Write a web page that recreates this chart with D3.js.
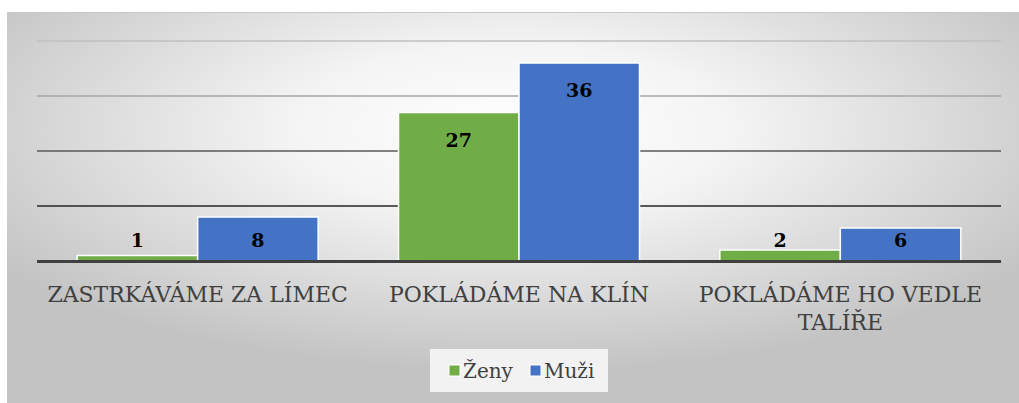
<!DOCTYPE html>
<html>
<head>
<meta charset="utf-8">
<script src="https://cdn.jsdelivr.net/npm/d3@7"></script>
<style>
  body { margin: 0; background: #fff; }
</style>
</head>
<body>
<div id="chart"></div>
<script>
var categories = ["ZASTRKÁVÁME ZA LÍMEC", "POKLÁDÁME NA KLÍN", "POKLÁDÁME HO VEDLE TALÍŘE"];
var seriesNames = ["Ženy", "Muži"];
var zeny = [1, 27, 2];
var muzi = [8, 36, 6];
var gridTicks = [10, 20, 30, 40];

var colors = ["#70ad47", "#4472c4"];
var gridColors = {10: "#262626", 20: "#595959", 30: "#a6a6a6", 40: "#bfbfbf"};
var serif = "DejaVu Serif";

var W = 1019, H = 403;
var margin = {top: 41, left: 37, right: 18, bottom: 142};
var width = W - margin.left - margin.right,
    height = H - margin.top - margin.bottom;

var data = categories.map(function (c, i) {
  return {cat: c, values: [zeny[i], muzi[i]]};
});

var svg = d3.select("#chart").append("svg")
  .attr("width", W).attr("height", H)
  .style("display", "block");

var defs = svg.append("defs");
var grad = defs.append("radialGradient")
  .attr("id", "bg")
  .attr("cx", "0.5").attr("cy", "0.3").attr("r", "0.62");
grad.append("stop").attr("offset", "0").attr("stop-color", "#ffffff");
grad.append("stop").attr("offset", "0.35").attr("stop-color", "#f4f4f4");
grad.append("stop").attr("offset", "1").attr("stop-color", "#c3c3c3");

// chart area
svg.append("rect")
  .attr("x", 7).attr("y", 12)
  .attr("width", W - 7).attr("height", H - 12)
  .attr("fill", "url(#bg)");
svg.append("line")
  .attr("x1", 7).attr("x2", W).attr("y1", 12.5).attr("y2", 12.5)
  .attr("stroke", "#c8c8c8");

var main = svg.append("g")
  .attr("transform", "translate(" + margin.left + "," + margin.top + ")");

var x0 = d3.scaleBand().domain(categories).range([0, width]).padding(0);
var x1 = d3.scaleBand().domain([0, 1])
  .range([x0.bandwidth() * 0.125, x0.bandwidth() * 0.875]).padding(0);
var y = d3.scaleLinear().domain([0, 40]).range([height, 0]);

// gridlines
main.selectAll(".grid")
  .data(gridTicks)
  .enter().append("line")
    .attr("class", "grid")
    .attr("x1", 0).attr("x2", width)
    .attr("y1", function (d) { return y(d); })
    .attr("y2", function (d) { return y(d); })
    .attr("stroke", function (d) { return gridColors[d]; })
    .attr("stroke-width", 1.5);

// bars
var groups = main.selectAll(".group")
  .data(data)
  .enter().append("g")
    .attr("class", "group")
    .attr("transform", function (d) { return "translate(" + x0(d.cat) + ",0)"; });

groups.selectAll("rect")
  .data(function (d) { return d.values; })
  .enter().append("rect")
    .attr("x", function (d, i) { return x1(i); })
    .attr("y", function (d) { return y(d); })
    .attr("width", x1.bandwidth())
    .attr("height", function (d) { return y(0) - y(d); })
    .attr("fill", function (d, i) { return colors[i]; })
    .attr("stroke", "#ffffff")
    .attr("stroke-width", 1.5);

groups.selectAll(".val")
  .data(function (d) { return d.values; })
  .enter().append("text")
    .attr("class", "val")
    .attr("x", function (d, i) { return x1(i) + x1.bandwidth() / 2; })
    .attr("y", function (d) { return Math.min(y(d) + 34, y(0) - 14); })
    .attr("text-anchor", "middle")
    .style("font-family", serif)
    .style("font-size", "19px")
    .style("font-weight", "bold")
    .attr("fill", "#000")
    .text(function (d) { return d; });

// baseline
main.append("line")
  .attr("x1", 0).attr("x2", width)
  .attr("y1", y(0) + 0.5).attr("y2", y(0) + 0.5)
  .attr("stroke", "#404040").attr("stroke-width", 3);

// category labels
var maxLabel = x0.bandwidth();
main.selectAll(".cat")
  .data(categories)
  .enter().append("text")
    .attr("class", "cat")
    .attr("x", function (d) { return x0(d) + x0.bandwidth() / 2; })
    .attr("y", y(0) + 41)
    .attr("text-anchor", "middle")
    .attr("fill", "#404040")
    .style("font-family", serif)
    .style("font-size", "22px")
    .each(function (d) {
      var t = d3.select(this);
      var words = d.split(" "), line = [];
      var tspan = t.append("tspan").attr("x", t.attr("x")).attr("dy", 0);
      words.forEach(function (w) {
        line.push(w);
        tspan.text(line.join(" "));
        if (tspan.node().getComputedTextLength() > maxLabel && line.length > 1) {
          line.pop();
          tspan.text(line.join(" "));
          line = [w];
          tspan = t.append("tspan").attr("x", t.attr("x")).attr("dy", "1.25em").text(w);
        }
      });
    });

// legend
var legend = svg.append("g").attr("transform", "translate(430,349)");
legend.append("rect")
  .attr("width", 178).attr("height", 43)
  .attr("fill", "#f2f2f2");
var item = legend.selectAll(".item")
  .data(seriesNames)
  .enter().append("g")
    .attr("class", "item")
    .attr("transform", function (d, i) { return "translate(" + (19 + i * 81) + ",0)"; });
item.append("rect")
  .attr("x", 0).attr("y", 16)
  .attr("width", 11).attr("height", 11)
  .attr("fill", function (d, i) { return colors[i]; })
  .attr("stroke", "#fff").attr("stroke-width", 1);
item.append("text")
  .attr("x", 14).attr("y", 29)
  .attr("fill", "#404040")
  .style("font-family", serif)
  .style("font-size", "20px")
  .text(function (d) { return d; });
</script>
</body>
</html>
